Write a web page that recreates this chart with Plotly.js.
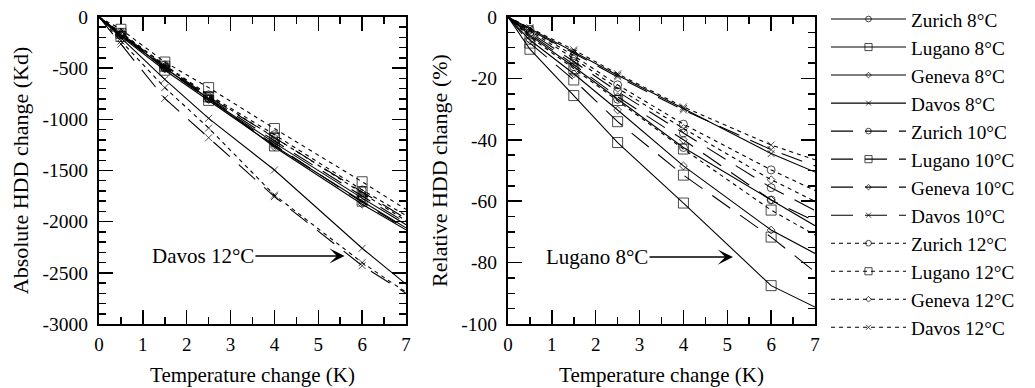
<!DOCTYPE html>
<html>
<head>
<meta charset="utf-8">
<script src="https://cdn.plot.ly/plotly-3.0.1.min.js"></script>
<style>
  html, body { margin: 0; padding: 0; background: #fff; }
  #chart { width: 1035px; height: 388px; }
</style>
</head>
<body>
<div id="chart"></div>
<script>
// Temperature change (K) at which values are given
const temps = [0, 0.5, 1.5, 2.5, 4, 6, 7];

// Absolute HDD change (Kd) - left panel
const absZurich8  = [0, -180, -500, -800, -1230, -1770, -2030];
const absLugano8  = [0, -190, -520, -815, -1260, -1800, -2060];
const absGeneva8  = [0, -175, -495, -795, -1270, -1830, -2080];
const absDavos8   = [0, -205, -610, -990, -1495, -2260, -2610];
const absZurich10 = [0, -170, -490, -790, -1210, -1750, -2010];
const absLugano10 = [0, -160, -480, -780, -1180, -1710, -1970];
const absGeneva10 = [0, -175, -505, -805, -1250, -1810, -2070];
const absDavos10  = [0, -265, -795, -1180, -1755, -2430, -2700];
const absZurich12 = [0, -150, -470, -760, -1150, -1690, -1940];
const absLugano12 = [0, -120, -440, -690, -1090, -1610, -1880];
const absGeneva12 = [0, -160, -480, -770, -1180, -1720, -1990];
const absDavos12  = [0, -235, -690, -1085, -1740, -2400, -2690];

// Relative HDD change (%) - right panel
const relZurich8  = [0, -6.0, -16.2, -26.8, -42.5, -59.6, -68.0];
const relLugano8  = [0, -10.5, -25.6, -40.9, -60.6, -87.5, -94.5];
const relGeneva8  = [0, -7.5, -18.5, -30.3, -48.5, -69.4, -77.0];
const relDavos8   = [0, -3.8, -11.2, -19.0, -29.8, -44.5, -50.5];
const relZurich10 = [0, -5.0, -14.5, -24.3, -37.8, -55.6, -63.0];
const relLugano10 = [0, -8.5, -20.5, -34.1, -51.5, -71.7, -83.0];
const relGeneva10 = [0, -5.5, -15.5, -26.0, -40.0, -59.6, -66.5];
const relDavos10  = [0, -4.2, -11.8, -19.5, -30.3, -43.2, -48.5];
const relZurich12 = [0, -4.0, -12.6, -22.1, -34.9, -49.8, -56.5];
const relLugano12 = [0, -6.5, -16.8, -27.2, -43.0, -62.9, -71.0];
const relGeneva12 = [0, -4.5, -13.5, -23.2, -36.3, -53.0, -60.0];
const relDavos12  = [0, -3.5, -10.7, -18.5, -29.3, -41.7, -46.5];

// Labels
const seriesNames = [
  'Zurich 8°C', 'Lugano 8°C', 'Geneva 8°C', 'Davos 8°C',
  'Zurich 10°C', 'Lugano 10°C', 'Geneva 10°C', 'Davos 10°C',
  'Zurich 12°C', 'Lugano 12°C', 'Geneva 12°C', 'Davos 12°C'
];
const absSeries = [absZurich8, absLugano8, absGeneva8, absDavos8,
                   absZurich10, absLugano10, absGeneva10, absDavos10,
                   absZurich12, absLugano12, absGeneva12, absDavos12];
const relSeries = [relZurich8, relLugano8, relGeneva8, relDavos8,
                   relZurich10, relLugano10, relGeneva10, relDavos10,
                   relZurich12, relLugano12, relGeneva12, relDavos12];

const xTickVals = [0, 1, 2, 3, 4, 5, 6, 7];
const xTickText = ['0', '1', '2', '3', '4', '5', '6', '7'];
const absTickVals = [0, -500, -1000, -1500, -2000, -2500, -3000];
const absTickText = ['0', '-500', '-1000', '-1500', '-2000', '-2500', '-3000'];
const relTickVals = [0, -20, -40, -60, -80, -100];
const relTickText = ['0', '-20', '-40', '-60', '-80', '-100'];

const xTitle = 'Temperature change (K)';
const absTitle = 'Absolute HDD change (Kd)';
const relTitle = 'Relative HDD change (%)';
const absNote = 'Davos 12°C';
const relNote = 'Lugano 8°C';

// Styles
const FONT = 'Liberation Serif, Times New Roman, serif';
const symbols = ['circle-open', 'square-open', 'diamond-open', 'x-thin-open'];
const symSizes = [8, 10, 6, 7];
const dashes = ['solid', '22px,12px', '4px,4px'];

function sizesFor(s) {
  return temps.map((t, i) => (i === 0 || i === temps.length - 1) ? 0 : s);
}

const traces = [];
function addPanel(series, xa, ya, showLegend) {
  series.forEach((vals, i) => {
    const city = i % 4, base = Math.floor(i / 4);
    traces.push({
      type: 'scatter', mode: 'lines+markers',
      x: temps, y: vals, xaxis: xa, yaxis: ya,
      name: seriesNames[i], showlegend: showLegend,
      line: { color: '#000', width: 1.1, dash: dashes[base] },
      marker: { symbol: symbols[city], size: sizesFor(symSizes[city]), color: '#000',
                line: { color: '#000', width: 1 } },
      hoverinfo: 'skip'
    });
  });
}
addPanel(absSeries, 'x', 'y', true);
addPanel(relSeries, 'x2', 'y2', false);

const W = 1035, H = 388;
const yDom = [(H - 324) / H, (H - 17) / H];

function xAxis(domain, anchor) {
  return {
    domain: domain, anchor: anchor, range: [0, 7],
    tickmode: 'array', tickvals: xTickVals, ticktext: xTickText,
    ticks: 'inside', ticklen: 14, tickwidth: 1.5, tickcolor: '#000',
    minor: { dtick: 0.5, tick0: 0, ticks: 'inside', ticklen: 7, tickwidth: 1.5, tickcolor: '#000', showgrid: false },
    showline: true, linewidth: 2, linecolor: '#000', mirror: 'allticks',
    showgrid: false, zeroline: false,
    ticklabelstandoff: 2,
    tickfont: { family: FONT, size: 19, color: '#000' },
    title: { text: xTitle, font: { family: FONT, size: 21, color: '#000' }, standoff: 14 },
    fixedrange: true
  };
}
function yAxis(domain, anchor, range, tv, tt, minorStep, title) {
  return {
    domain: domain, anchor: anchor, range: range,
    tickmode: 'array', tickvals: tv, ticktext: tt,
    ticks: 'inside', ticklen: 14, tickwidth: 1.5, tickcolor: '#000',
    minor: { dtick: minorStep, tick0: 0, ticks: 'inside', ticklen: 7, tickwidth: 1.5, tickcolor: '#000', showgrid: false },
    showline: true, linewidth: 2, linecolor: '#000', mirror: 'allticks',
    showgrid: false, zeroline: false,
    ticklabelstandoff: 5,
    tickfont: { family: FONT, size: 19.5, color: '#000' },
    title: { text: title, font: { family: FONT, size: 22, color: '#000' }, standoff: 8 },
    fixedrange: true
  };
}

const layout = {
  width: W, height: H,
  margin: { l: 0, r: 0, t: 0, b: 0 },
  paper_bgcolor: '#fff', plot_bgcolor: '#fff',
  font: { family: FONT, color: '#000' },
  xaxis: xAxis([99 / W, 406 / W], 'y'),
  yaxis: yAxis(yDom, 'x', [-3000, 0], absTickVals, absTickText, 100, absTitle),
  xaxis2: xAxis([508 / W, 815 / W], 'y2'),
  yaxis2: yAxis(yDom, 'x2', [-100, 0], relTickVals, relTickText, 5, relTitle),
  showlegend: true,
  legend: {
    x: 826 / W, y: 1.0, xanchor: 'left', yanchor: 'top',
    font: { family: FONT, size: 19.25, color: '#000' },
    itemwidth: 75, bgcolor: 'rgba(0,0,0,0)', borderwidth: 0,
    traceorder: 'normal', itemclick: false, itemdoubleclick: false
  },
  annotations: [
    { xref: 'x', yref: 'y', axref: 'x', ayref: 'y',
      x: 5.6, y: -2335, ax: 2.37, ay: -2335,
      text: absNote, showarrow: true, arrowhead: 3, arrowsize: 1.7, arrowwidth: 1.5,
      arrowcolor: '#000', font: { family: FONT, size: 21, color: '#000' } },
    { xref: 'x2', yref: 'y2', axref: 'x2', ayref: 'y2',
      x: 5.13, y: -78.2, ax: 2.03, ay: -78.2,
      text: relNote, showarrow: true, arrowhead: 3, arrowsize: 1.7, arrowwidth: 1.5,
      arrowcolor: '#000', font: { family: FONT, size: 21, color: '#000' } }
  ]
};

Plotly.newPlot('chart', traces, layout, { displayModeBar: false, staticPlot: true });
</script>
</body>
</html>
